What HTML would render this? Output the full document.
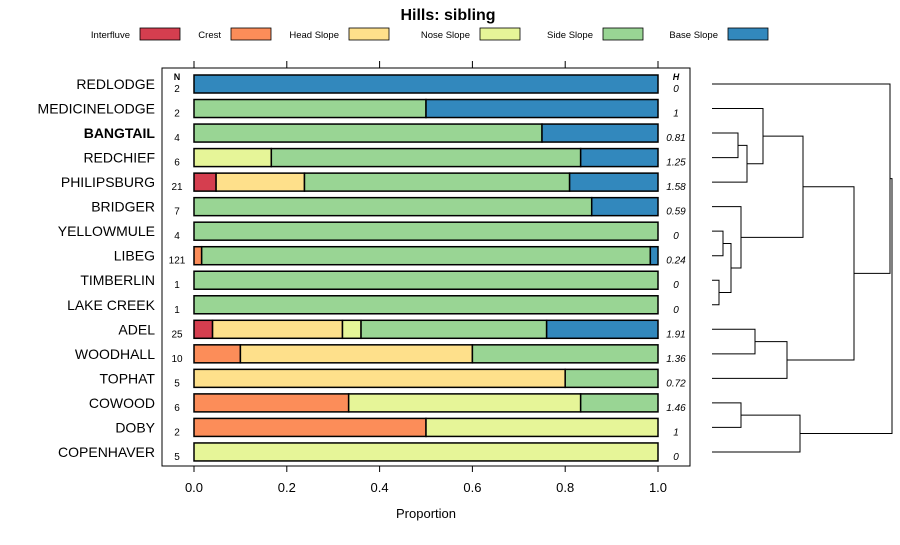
<!DOCTYPE html>
<html><head><meta charset="utf-8"><style>
body{margin:0;background:#fff;font-family:"Liberation Sans",sans-serif}
svg text{font-family:"Liberation Sans",sans-serif}
</style></head><body>
<svg id="c" width="900" height="540" xmlns="http://www.w3.org/2000/svg">
<text x="448" y="20" text-anchor="middle" font-size="16" font-weight="bold">Hills: sibling</text>
<g id="legend"></g>
<rect x="162" y="68" width="528" height="398" fill="none" stroke="#000" stroke-width="1"/>
<g id="bars"></g>
<g id="axis"></g>
<g id="dendro" stroke="#000" stroke-width="1" fill="none"></g>
<text x="426" y="518" text-anchor="middle" font-size="13">Proportion</text>
<text x="177" y="80" text-anchor="middle" font-size="9" font-weight="bold">N</text>
<text x="676" y="80" text-anchor="middle" font-size="9" font-weight="bold" font-style="italic">H</text>
</svg>
<script>
const classes=["Interfluve","Crest","Head Slope","Nose Slope","Side Slope","Base Slope"];
const colors=["#D53E4F","#FC8D59","#FEE08B","#E6F598","#99D594","#3288BD"];
const sites=["REDLODGE","MEDICINELODGE","BANGTAIL","REDCHIEF","PHILIPSBURG","BRIDGER","YELLOWMULE","LIBEG","TIMBERLIN","LAKE CREEK","ADEL","WOODHALL","TOPHAT","COWOOD","DOBY","COPENHAVER"];
const counts=[[0,0,0,0,0,2],[0,0,0,0,1,1],[0,0,0,0,3,1],[0,0,0,1,4,1],[1,0,4,0,12,4],[0,0,0,0,6,1],[0,0,0,0,4,0],[0,2,0,0,117,2],[0,0,0,0,1,0],[0,0,0,0,1,0],[1,0,7,1,10,6],[0,1,5,0,4,0],[0,0,4,0,1,0],[0,2,0,3,1,0],[0,1,0,1,0,0],[0,0,0,5,0,0]];
const nLabels=["2","2","4","6","21","7","4","121","1","1","25","10","5","6","2","5"];
const hLabels=["0","1","0.81","1.25","1.58","0.59","0","0.24","0","0","1.91","1.36","0.72","1.46","1","0"];
const ticks=[0,0.2,0.4,0.6,0.8,1.0];
const tickLabels=["0.0","0.2","0.4","0.6","0.8","1.0"];
const NS="http://www.w3.org/2000/svg";
const xs=v=>194+v*464;
const ys=i=>84+i*24.53;
function mk(t,a,p){const e=document.createElementNS(NS,t);for(const k in a)e.setAttribute(k,a[k]);p.appendChild(e);return e;}
// legend
const lg=document.getElementById('legend');
const lx=[[130,140],[221,231],[339,349],[470,480],[593,603],[718,728]];
classes.forEach((c,i)=>{
 const t=mk('text',{x:lx[i][0],y:38,'font-size':9.5,'text-anchor':'end'},lg);t.textContent=c;
 
 
 const r=mk('rect',{x:lx[i][1],y:28,width:40,height:12,fill:colors[i],stroke:'#000','stroke-width':0.8},lg);
 
 
});
// bars
const bg=document.getElementById('bars');
sites.forEach((s,i)=>{
 const y=ys(i);const tot=counts[i].reduce((a,b)=>a+b,0);let cum=0;
 const lab=mk('text',{x:155,y:y+5,'font-size':14,'text-anchor':'end','font-weight':s==="BANGTAIL"?'bold':'normal'},bg);lab.textContent=s;
 
 
 counts[i].forEach((c,j)=>{ if(!c)return;
  const r=mk('rect',{x:xs(cum/tot),y:y-9,width:xs((cum+c)/tot)-xs(cum/tot),height:18,fill:colors[j],stroke:'#000','stroke-width':1.5},bg);
  
  
  cum+=c;});
 const n=mk('text',{x:177,y:y+8,'font-size':10,'text-anchor':'middle'},bg);n.textContent=nLabels[i];
 
 
 const h=mk('text',{x:676,y:y+8,'font-size':10,'text-anchor':'middle','font-style':'italic'},bg);h.textContent=hLabels[i];
 
 
});
// axis
const ax=document.getElementById('axis');
ticks.forEach((t,i)=>{
 const l=mk('line',{x1:xs(t),x2:xs(t),y1:466,y2:472,stroke:'#000'},ax);
 
 
 const l2=mk('line',{x1:xs(t),x2:xs(t),y1:61,y2:68,stroke:'#000'},ax);
 
 
 const tx=mk('text',{x:xs(t),y:492,'font-size':13,'text-anchor':'middle'},ax);tx.textContent=tickLabels[i];
 
 
});
// dendrogram
const merges=[[2,3,738],[16,4,747],[1,17,763],[6,7,723],[8,9,719],[19,20,731],[5,21,741],[18,22,803],[10,11,755],[24,12,787],[23,25,854],[0,26,890],[13,14,741],[28,15,800],[27,29,892]];
const dg=document.getElementById('dendro');
const pos={};for(let i=0;i<16;i++)pos[i]=[712,ys(i)];
merges.forEach((m,k)=>{
 const a=pos[m[0]],b=pos[m[1]],x=m[2];
 const p=mk('path',{d:`M${a[0]},${a[1]}H${x}V${b[1]}H${b[0]}`},dg);
 
 
 pos[16+k]=[x,(a[1]+b[1])/2];
});
</script>
</body></html>
